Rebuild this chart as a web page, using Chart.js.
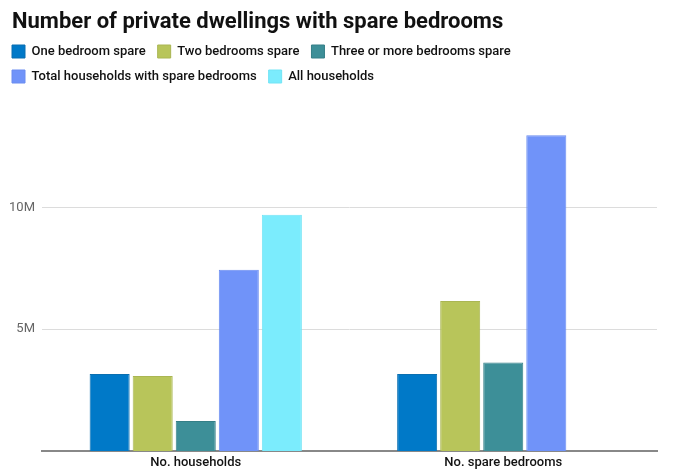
<!DOCTYPE html>
<html><head><meta charset="utf-8">
<script src="https://cdn.jsdelivr.net/npm/chart.js@4/dist/chart.umd.min.js"></script>
<style>html,body{margin:0;padding:0;background:#fff}#wrap{width:690px;height:472px}</style>
</head><body><div id="wrap"><canvas id="c" width="690" height="472"></canvas></div>
<script>
const titleText = 'Number of private dwellings with spare bedrooms';
const categories = ['No. households', 'No. spare bedrooms'];
const seriesNames = ['One bedroom spare', 'Two bedrooms spare', 'Three or more bedrooms spare', 'Total households with spare bedrooms', 'All households'];
const oneBedroom = [3.16e6, 3.16e6];
const twoBedrooms = [3.08e6, 6.16e6];
const threePlus = [1.23e6, 3.63e6];
const totalSpare = [7.44e6, 12.97e6];
const allHouseholds = [9.70e6, null];
const yTicks = [5e6, 10e6];
const colors = ['#0079c8', '#b8c55a', '#3d8f98', '#7093f9', '#7becfd'];
const borders = ['#0b6fb0', '#aab653', '#357f87', '#6a8cf0', '#72e4f5'];
const values = [oneBedroom, twoBedrooms, threePlus, totalSpare, allHouseholds];

const titlePlugin = {
  id: 'leftTitle',
  afterDraw(chart) {
    const ctx = chart.ctx;
    ctx.save();
    ctx.font = 'bold 22px Roboto';
    ctx.fillStyle = '#111';
    ctx.textBaseline = 'alphabetic';
    ctx.textAlign = 'left';
    ctx.fillText(titleText, 12, 28);
    ctx.restore();
  }
};

new Chart(document.getElementById('c'), {
  type: 'bar',
  data: {
    labels: categories,
    datasets: seriesNames.map((n, i) => ({
      label: n, data: values[i], backgroundColor: colors[i], borderColor: borders[i],
      borderWidth: 1, categoryPercentage: 0.7, barPercentage: 0.93
    }))
  },
  plugins: [titlePlugin],
  options: {
    responsive: false, animation: false,
    layout: { padding: { left: 0, right: 33, top: 33, bottom: 0 } },
    plugins: {
      tooltip: { enabled: false },
      legend: { align: 'start', labels: { boxWidth: 13, boxHeight: 13, color: '#111', padding: 12,
        font: { family: 'Roboto', size: 13, weight: 500 } } }
    },
    scales: {
      x: { grid: { display: false, drawTicks: false }, border: { display: true, color: '#888', width: 2 },
        afterFit: s => { s.height = 21; },
        ticks: { color: '#111', font: { family: 'Roboto', size: 13, weight: 500 }, padding: 4 } },
      y: { min: 0, max: 14.7e6,
        afterBuildTicks: s => { s.ticks = yTicks.map(v => ({ value: v })); },
        afterFit: s => { s.width = 42; },
        border: { display: false },
        grid: { color: '#dcdcdc', drawTicks: false },
        ticks: { color: '#666', padding: 7, font: { family: 'Roboto', size: 13 },
          callback: v => (v / 1e6) + 'M' } }
    }
  }
});
</script></body></html>
